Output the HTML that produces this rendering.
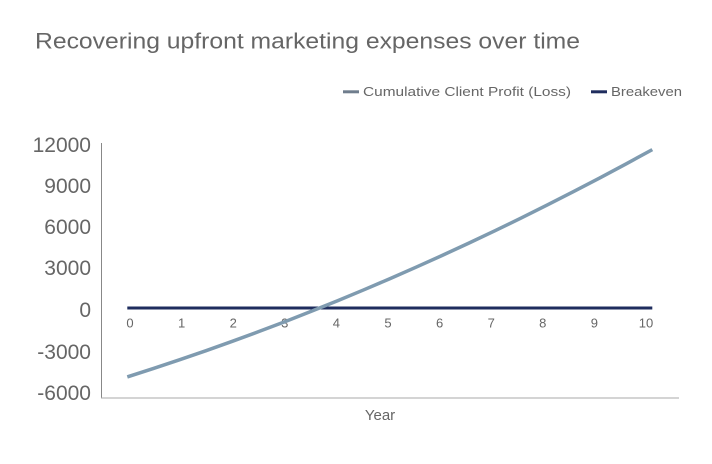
<!DOCTYPE html>
<html>
<head>
<meta charset="utf-8">
<style>
  html, body { margin: 0; padding: 0; background: #ffffff; }
  svg { display: block; }
  text { font-family: "Liberation Sans", sans-serif; }
</style>
</head>
<body>
<svg width="712" height="464" viewBox="0 0 712 464" xmlns="http://www.w3.org/2000/svg">
  <rect width="712" height="464" fill="#ffffff"/>

  <!-- Title -->
  <text x="35" y="48.5" font-size="22" fill="#666666" textLength="545" lengthAdjust="spacingAndGlyphs">Recovering upfront marketing expenses over time</text>

  <!-- Legend -->
  <rect x="343" y="90.3" width="16" height="3" fill="#6f7d8d"/>
  <text x="363" y="96" font-size="13" fill="#666666" textLength="208" lengthAdjust="spacingAndGlyphs">Cumulative Client Profit (Loss)</text>
  <rect x="591" y="90.3" width="16" height="3" fill="#1f2d5e"/>
  <text x="611" y="96" font-size="13" fill="#666666" textLength="71" lengthAdjust="spacingAndGlyphs">Breakeven</text>

  <!-- Axes -->
  <line x1="101.5" y1="143" x2="101.5" y2="398" stroke="#888888" stroke-width="1"/>
  <line x1="101" y1="398" x2="679" y2="398" stroke="#aaaaaa" stroke-width="1"/>

  <!-- Y labels -->
  <g font-size="21" fill="#666666" text-anchor="end">
    <text x="91" y="152">12000</text>
    <text x="91" y="193">9000</text>
    <text x="91" y="234">6000</text>
    <text x="91" y="275">3000</text>
    <text x="91" y="317">0</text>
    <text x="91" y="359">-3000</text>
    <text x="91" y="400">-6000</text>
  </g>

  <!-- Breakeven line -->
  <line x1="127.3" y1="308" x2="652.3" y2="308" stroke="#1f2d5e" stroke-width="3"/>

  <!-- X tick labels -->
  <g font-size="13" fill="#666666" text-anchor="middle">
    <text x="130" y="327.5">0</text>
    <text x="181.6" y="327.5">1</text>
    <text x="233.2" y="327.5">2</text>
    <text x="284.8" y="327.5">3</text>
    <text x="336.4" y="327.5">4</text>
    <text x="388" y="327.5">5</text>
    <text x="439.6" y="327.5">6</text>
    <text x="491.2" y="327.5">7</text>
    <text x="542.8" y="327.5">8</text>
    <text x="594.4" y="327.5">9</text>
    <text x="646" y="327.5">10</text>
  </g>

  <!-- Cumulative profit curve -->
  <polyline fill="none" stroke="#7f9bb0" stroke-width="3.5" stroke-linejoin="round"
    points="127.3,376.9 153.55,368.45 179.8,359.72 206.05,350.68 232.3,341.33 258.55,331.67 284.8,321.71 311.05,311.43 337.3,300.84 363.55,289.94 389.8,278.73 416.05,267.21 442.3,255.38 468.55,243.24 494.8,230.8 521.05,218.04 547.3,204.97 573.55,191.59 599.8,177.9 626.05,163.91 652.3,149.6"/>

  <!-- X axis title -->
  <text x="380" y="420" font-size="15" fill="#666666" text-anchor="middle">Year</text>
</svg>
</body>
</html>
